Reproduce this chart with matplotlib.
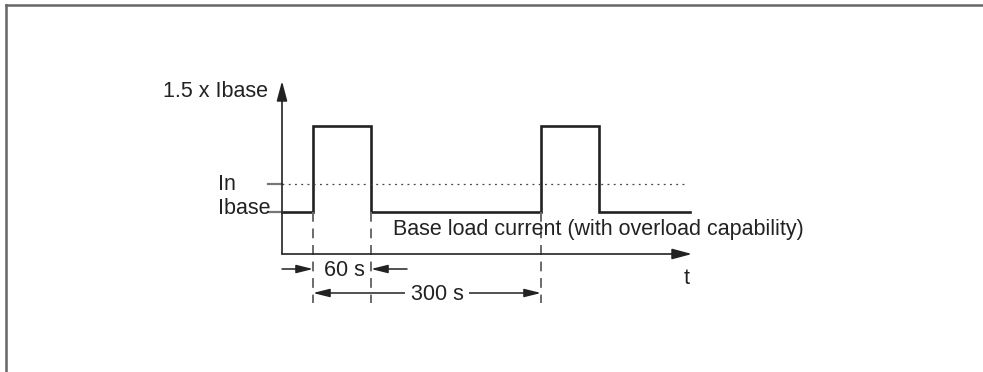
import numpy as np
import matplotlib.pyplot as plt
from matplotlib.lines import Line2D

plt.rcParams['font.family'] = ['Liberation Sans', 'DejaVu Sans']

# schematic time axis (arbitrary units, origin at the y axis)
t_end = 408
pulse_starts = [31, 259]
pulse_width = 58

# schematic current levels (x axis = 0)
i_base = 0.42
i_n = 0.70
i_peak = 1.28
y_top = 1.73

labels_y = ["1.5 x Ibase", "In", "Ibase"]
curve_label = "Base load current (with overload capability)"
dim_short = "60 s"
dim_long = "300 s"

ink = "#222222"
gray = "#777777"

fig = plt.figure(figsize=(9.83, 3.72), dpi=100)
ax = fig.add_axes([0, 0, 1, 1])
ax.set_xlim(-282, 983 - 282)
ax.set_ylim(-1.18, 2.54)
ax.axis("off")

# frame of the figure (top and left edges visible)
fig.add_artist(Line2D([6 / 983, 1], [1 - 5 / 372] * 2, color="#666666", lw=1.8))
fig.add_artist(Line2D([6 / 983] * 2, [0, 1 - 5 / 372], color="#666666", lw=1.8))

# axes with arrow heads
head = "-|>,head_length=1.2,head_width=0.32"
ax.annotate("", xy=(t_end + 2, 0), xytext=(0, 0),
            arrowprops=dict(arrowstyle=head, color=ink, lw=1.2, shrinkA=0, shrinkB=0))
ax.annotate("", xy=(0, y_top), xytext=(0, 0),
            arrowprops=dict(arrowstyle=head, color=ink, lw=1.2, shrinkA=0, shrinkB=0))

# signal
ts = [0]
ys = [i_base]
for s in pulse_starts:
    ts += [s, s, s + pulse_width, s + pulse_width]
    ys += [i_base, i_peak, i_peak, i_base]
ts.append(t_end)
ys.append(i_base)
ax.plot(ts, ys, color=ink, lw=1.9, solid_joinstyle="miter")

# In dotted level and small gray ticks
ax.plot([0, t_end - 2], [i_n, i_n], color="#444444", lw=0.9, ls=(0, (1.5, 3.5)))
for lev in (i_n, i_base):
    ax.plot([-14, 0], [lev, lev], color=gray, lw=1.6)

# dashed guide lines
guides = [pulse_starts[0], pulse_starts[0] + pulse_width, pulse_starts[1]]
for g in guides:
    ax.plot([g, g], [i_base, -0.49], color="#6a6a6a", lw=1.4, ls=(0, (5, 3.5)))

# labels
fs = 15.5
ax.text(268 - 282, 1.62, labels_y[0], ha="right", va="center", fontsize=fs, color=ink)
ax.text(218 - 282, i_n - 0.01, labels_y[1], ha="left", va="center", fontsize=fs, color=ink)
ax.text(218 - 282, i_base + 0.03, labels_y[2], ha="left", va="center", fontsize=fs, color=ink)
ax.text(393 - 282, 0.245, curve_label, ha="left", va="center", fontsize=fs, color=ink)
ax.text(405, -0.25, "t", ha="center", va="center", fontsize=fs, color=ink)

# 60 s dimension
y60 = -0.15
small_head = "-|>,head_length=1.0,head_width=0.25"
ax.annotate("", xy=(pulse_starts[0], y60), xytext=(0, y60),
            arrowprops=dict(arrowstyle=small_head, color=ink, lw=1.1, shrinkA=0, shrinkB=0))
ax.annotate("", xy=(pulse_starts[0] + pulse_width, y60), xytext=(125, y60),
            arrowprops=dict(arrowstyle=small_head, color=ink, lw=1.1, shrinkA=0, shrinkB=0))
ax.text(62, y60 - 0.02, dim_short, ha="center", va="center", fontsize=fs, color=ink)

# 300 s dimension
y300 = -0.39
ax.annotate("", xy=(pulse_starts[1], y300), xytext=(pulse_starts[0], y300),
            arrowprops=dict(arrowstyle="<|-|>,head_length=1.0,head_width=0.25",
                            color=ink, lw=1.1, shrinkA=0, shrinkB=0))
ax.text(155, y300 - 0.02, dim_long, ha="center", va="center", fontsize=fs, color=ink,
        bbox=dict(facecolor="white", edgecolor="none", pad=4))

fig.savefig("out.png", dpi=100)
